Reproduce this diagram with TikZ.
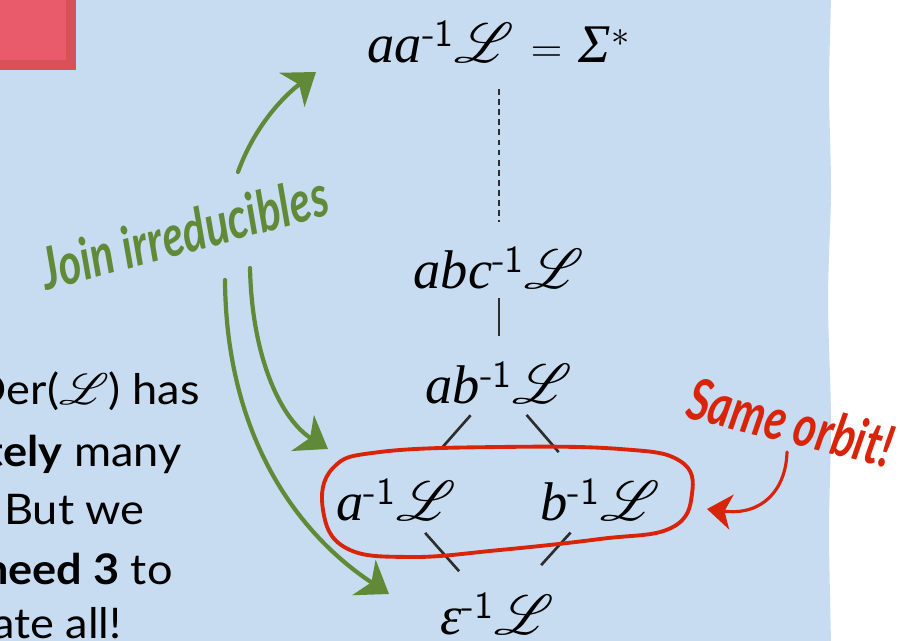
\documentclass[tikz,border=0pt]{standalone}
\usepackage{amsmath}
\usepackage{mathrsfs}
\usepackage{graphicx}
\usepackage{fontspec}
\setsansfont{Lato}
\newfontfamily\serifit{Liberation Serif}[UprightFont=*-Italic]
\newfontfamily\supsans{lmsans10-regular.otf}
\usetikzlibrary{arrows.meta,calc}
\definecolor{skyblue}{RGB}{199,220,240}
\definecolor{boxred}{RGB}{233,90,106}
\definecolor{boxedge}{RGB}{216,80,88}
\definecolor{leafgreen}{RGB}{96,138,56}
\definecolor{orbitred}{RGB}{218,36,10}
\definecolor{edgegray}{RGB}{45,45,45}
\newcommand{\Lang}{\scalebox{1.28}{$\mathscr{L}$}}
\newcommand{\inv}{\textsuperscript{\supsans -1}}
\newcommand{\word}[1]{{\serifit #1}}

\begin{document}
\begin{tikzpicture}[x=0.02cm, y=-0.02cm,
    lat/.style={inner sep=0pt, font=\fontsize{31}{36}\selectfont},
    cover/.style={edgegray, line width=1.5pt},
    hand/.style={font=\fontsize{33}{38}\selectfont\sffamily\bfseries\itshape},
    prose/.style={anchor=base east, inner sep=0pt, xscale=1.07, font=\fontsize{24}{28}\selectfont\sffamily},
    greenarrow/.style={leafgreen, line width=2.4pt, line cap=round, -{Stealth[length=17pt,width=24pt,inset=5pt]}},
    redarrow/.style={orbitred, line width=1.8pt, line cap=round, -{Stealth[length=14pt,width=20pt,inset=4pt]}}]
    \useasboundingbox (0,0) rectangle (900,641);
    \clip (0,0) rectangle (900,641);

    % Background panel with a ragged right edge
    \fill[white] (0,0) rectangle (900,641);
    \fill[skyblue] (0,-5) -- (831,-5) -- plot[smooth] coordinates {(831,0) (829,90) (831,190) (828,300) (831,420) (829,530) (831,641)} -- (831,646) -- (0,646) -- cycle;

    % Corner box
    \fill[boxedge] (-5,-5) rectangle (76,70);
    \fill[boxred] (-5,-5) rectangle (66,60);

    % Text on the left, cut off by the frame
    \node[prose] (l1) at (200,405) {Der($\mathscr{L}$) has};
    \node[prose] (l2) at (182,467) {\textbf{tely} many};
    \node[prose] (l3) at (145,525) {. But we};
    \node[prose] (l4) at (173,585) {\textbf{need 3} to};
    \node[prose] (l5) at (122,639) {ate all!};

    % Lattice of derivatives
    \node[lat] (top) at (499,42) {\word{aa}\inv\Lang\ $=$\ \word{Σ}$^{\ast}$};
    \node[lat] (abc) at (499,268) {\word{abc}\inv\Lang};
    \node[lat] (ab) at (499,383) {\word{ab}\inv\Lang};
    \node[lat] (a) at (396,500) {\word{a}\inv\Lang};
    \node[lat] (b) at (600,500) {\word{b}\inv\Lang};
    \node[lat] (eps) at (497,614) {\word{ε}\inv\Lang};

    % Cover relations
    \draw[cover, dash pattern=on 3.4pt off 2.3pt, shorten <=27pt, shorten >=26pt] (top.center) -- (abc.center);
    \draw[cover, shorten <=17pt, shorten >=27pt] (abc.center) -- (ab.center);
    \draw[cover, shorten <=24.5pt, shorten >=40pt] (ab.center) -- (a.center);
    \draw[cover, shorten <=24pt, shorten >=36pt] (ab.center) -- (b.center);
    \draw[cover, shorten <=25pt, shorten >=32.5pt] (a.center) -- (eps.center);
    \draw[cover, shorten <=25pt, shorten >=37.5pt] (b.center) -- (eps.center);

    % Loop round the orbit
    \draw[orbitred, line width=2.2pt] plot[smooth cycle, tension=0.7] coordinates {(333,468) (380,452) (500,447) (620,449) (680,461) (692,494) (671,528) (600,539) (500,550) (410,557) (346,548) (323,510)};

    % Annotations
    \node[hand, leafgreen, rotate=15, xscale=0.75] (join) at (184,232) {Join irreducibles};
    \node[hand, orbitred, rotate=-14, xscale=0.75] (orbit) at (791,422) {Same orbit!};

    \coordinate (j1) at (238,172);
    \coordinate (j2) at (250,268);
    \coordinate (j3) at (225,280);
    \coordinate (o1) at (787,452);
    \coordinate (t1) at (316,72);
    \coordinate (t2) at (328,449);
    \coordinate (t3) at (389,594);
    \coordinate (t4) at (707,509);

    \draw[greenarrow] (j1) .. controls (255,125) and (285,95) .. (t1);
    \draw[greenarrow] (j2) .. controls (252,360) and (282,420) .. (t2);
    \draw[greenarrow] (j3) .. controls (226,430) and (292,530) .. (t3);
    \draw[redarrow] (o1) .. controls (786,490) and (762,516) .. (t4);

\end{tikzpicture}
\end{document}
